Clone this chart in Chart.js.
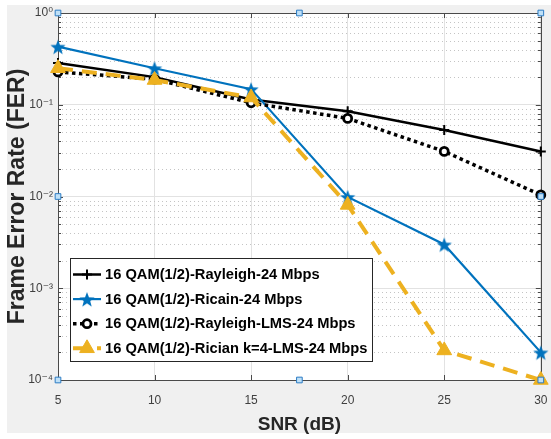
<!DOCTYPE html>
<html>
<head>
<meta charset="utf-8">
<script src="https://cdn.jsdelivr.net/npm/chart.js@4.4.0/dist/chart.umd.min.js"></script>
<style>
  html, body { margin: 0; padding: 0; background: #ffffff; }
  #wrap { position: relative; width: 551px; height: 439px; }
</style>
</head>
<body>
<div id="wrap"><canvas id="chart" width="551" height="439"></canvas></div>
<script>
// data
const snr = [5, 10, 15, 20, 25, 30];
const ferRayleigh = [0.285, 0.2, 0.114, 0.085, 0.053, 0.031];
const ferRician = [0.43, 0.25, 0.148, 0.0099, 0.003, 0.0002];
const ferRayleighLms = [0.228, 0.19, 0.105, 0.071, 0.031, 0.0104];
const ferRicianLms = [0.25, 0.186, 0.12, 0.0081, 0.00021, 0.0001];
const seriesLabels = [
  '16 QAM(1/2)-Rayleigh-24 Mbps',
  '16 QAM(1/2)-Ricain-24 Mbps',
  '16 QAM(1/2)-Rayleigh-LMS-24 Mbps',
  '16 QAM(1/2)-Rician k=4-LMS-24 Mbps'
];
const xTicks = [5, 10, 15, 20, 25, 30];
const yDecades = [-4, -3, -2, -1, 0];
// blue selection handles of the figure editor
const handleX = [5, 17.5, 30, 5, 30, 5, 17.5, 30];
const handleY = [1, 1, 1, 1e-2, 1e-2, 1e-4, 1e-4, 1e-4];

const sup = {'0': '\u2070', '1': '\u00b9', '2': '\u00b2', '3': '\u00b3', '4': '\u2074', '-': '\u207b'};
const FONT = "'Liberation Sans', Arial, 'DejaVu Sans', sans-serif";

function pts(ys) {
  return snr.map((x, i) => ({x: x, y: ys[i]}));
}
function isDecade(v) {
  const e = Math.round(Math.log10(v));
  return Math.abs(v / Math.pow(10, e) - 1) < 1e-6;
}

// filled pentagram marker
function makeStar(r, color) {
  const c = document.createElement('canvas');
  const s = Math.ceil(r * 2 + 2);
  c.width = s; c.height = s;
  const g = c.getContext('2d');
  g.fillStyle = color;
  g.beginPath();
  for (let i = 0; i < 10; i++) {
    const rr = i % 2 ? r * 0.42 : r;
    const a = -Math.PI / 2 + i * Math.PI / 5;
    const px = s / 2 + rr * Math.cos(a), py = s / 2 + 1 + rr * Math.sin(a);
    if (i == 0) g.moveTo(px, py); else g.lineTo(px, py);
  }
  g.closePath();
  g.fill();
  return c;
}
const star = makeStar(8, '#0072BD');

const lineSets = [
  {label: seriesLabels[0], data: pts(ferRayleigh), borderColor: '#000000', backgroundColor: '#000000',
   borderWidth: 2.5, pointStyle: 'cross', pointRadius: 5, pointBorderWidth: 2, order: 4, legendRow: 0},
  {label: seriesLabels[1], data: pts(ferRician), borderColor: '#0072BD', backgroundColor: '#0072BD',
   borderWidth: 2.2, pointStyle: star, pointRadius: 8, order: 3, legendRow: 1},
  {label: seriesLabels[2], data: pts(ferRayleighLms), borderColor: '#000000', backgroundColor: '#ffffff',
   borderWidth: 3.5, borderDash: [3.5, 3.5], pointStyle: 'circle', pointRadius: 4, pointBorderWidth: 2.8, order: 2, legendRow: 2},
  {label: seriesLabels[3], data: pts(ferRicianLms), borderColor: '#EDB120', backgroundColor: '#EDB120',
   borderWidth: 4, borderDash: [15, 9], pointStyle: 'triangle', pointRadius: 8.5, pointBorderWidth: 1, order: 1, legendRow: 3}
];
lineSets.forEach(d => { d.clip = false; d.tension = 0; d.fill = false; d.pointBorderColor = d.borderColor;
  d.pointBackgroundColor = d.backgroundColor; d.pointHoverRadius = d.pointRadius; });

const handles = {
  label: 'handles', data: handleX.map((x, i) => ({x: x, y: handleY[i]})), showLine: false,
  pointStyle: 'rect', pointRadius: 4, pointBorderWidth: 1, pointBackgroundColor: '#bfe0f7',
  pointBorderColor: '#2c7cc4', clip: false, order: 0
};

const frame = {
  id: 'frame',
  beforeDraw(chart) {
    const ctx = chart.ctx, a = chart.chartArea;
    ctx.save();
    ctx.fillStyle = '#f0f0f0';
    ctx.fillRect(7, 5, 544, 428);
    ctx.fillStyle = '#ffffff';
    ctx.fillRect(a.left, a.top, a.right - a.left, a.bottom - a.top);
    ctx.restore();
  },
  beforeDatasetsDraw(chart) {
    const ctx = chart.ctx, a = chart.chartArea, ys = chart.scales.y, xs = chart.scales.x;
    ctx.save();
    // minor dotted grid
    ctx.strokeStyle = '#c4c4c4';
    ctx.lineWidth = 1;
    ctx.setLineDash([1, 3]);
    ys.ticks.forEach(t => {
      if (isDecade(t.value)) return;
      const y = Math.round(ys.getPixelForValue(t.value)) + 0.5;
      ctx.beginPath(); ctx.moveTo(a.left, y); ctx.lineTo(a.right, y); ctx.stroke();
    });
    ctx.setLineDash([]);
    // box and inward ticks
    ctx.strokeStyle = '#4a4a4a';
    ctx.strokeRect(Math.round(a.left) + 0.5, Math.round(a.top) + 0.5, Math.round(a.right - a.left), Math.round(a.bottom - a.top));
    ctx.beginPath();
    ys.ticks.forEach(t => {
      const y = Math.round(ys.getPixelForValue(t.value)) + 0.5;
      const len = isDecade(t.value) ? 5 : 3;
      ctx.moveTo(a.left, y); ctx.lineTo(a.left + len, y);
      ctx.moveTo(a.right, y); ctx.lineTo(a.right - len, y);
    });
    xTicks.forEach(v => {
      const x = Math.round(xs.getPixelForValue(v)) + 0.5;
      ctx.moveTo(x, a.bottom); ctx.lineTo(x, a.bottom - 5);
      ctx.moveTo(x, a.top); ctx.lineTo(x, a.top + 5);
    });
    ctx.stroke();
    ctx.restore();
  },
  afterDatasetsDraw(chart) {
    const ctx = chart.ctx, a = chart.chartArea;
    const bx = a.left + 12, bw = 302, bh = 103, by = a.bottom - 19 - bh;
    ctx.save();
    ctx.fillStyle = '#ffffff';
    ctx.fillRect(bx, by, bw, bh);
    ctx.strokeStyle = '#262626';
    ctx.lineWidth = 1;
    ctx.strokeRect(Math.round(bx) + 0.5, Math.round(by) + 0.5, bw, bh);
    ctx.font = 'bold 14.7px ' + FONT;
    ctx.textBaseline = 'middle';
    ctx.textAlign = 'left';
    chart.data.datasets.forEach(ds => {
      if (ds.legendRow === undefined) return;
      const y = by + 16.5 + ds.legendRow * 24.6;
      const x0 = bx + 3, x1 = bx + 31, cx = (x0 + x1) / 2;
      ctx.save();
      ctx.strokeStyle = ds.borderColor;
      ctx.lineWidth = ds.borderWidth;
      ctx.setLineDash(ds.borderDash || []);
      ctx.beginPath(); ctx.moveTo(x0, y); ctx.lineTo(x1, y); ctx.stroke();
      ctx.setLineDash([]);
      ctx.fillStyle = ds.pointBackgroundColor;
      ctx.strokeStyle = ds.pointBorderColor;
      ctx.lineWidth = ds.pointBorderWidth || 1;
      Chart.helpers.drawPoint(ctx, {pointStyle: ds.pointStyle, radius: ds.pointRadius, borderWidth: ds.pointBorderWidth || 1, rotation: 0}, cx, y);
      ctx.restore();
      ctx.fillStyle = '#000000';
      ctx.fillText(ds.label, bx + 35, y + 0.5);
    });
    ctx.restore();
  }
};

new Chart(document.getElementById('chart'), {
  type: 'line',
  data: {datasets: [handles].concat(lineSets)},
  options: {
    responsive: false,
    animation: false,
    events: [],
    layout: {padding: {top: 13, right: 7, left: 0, bottom: 0}},
    plugins: {legend: {display: false}, tooltip: {enabled: false}},
    scales: {
      x: {
        type: 'linear', min: 5, max: 30,
        afterFit(s) { s.height = 59; s.paddingLeft = 0; s.paddingRight = 0; },
        afterBuildTicks(s) { s.ticks = xTicks.map(v => ({value: v})); },
        grid: {color: '#e2e2e2', drawTicks: false},
        border: {display: false},
        ticks: {padding: 13, color: '#404040', font: {family: FONT, size: 12}, autoSkip: false, maxRotation: 0},
        title: {display: true, text: 'SNR (dB)', color: '#262626', font: {family: FONT, size: 19, weight: 'bold'}, padding: {top: 0, bottom: 3}}
      },
      y: {
        type: 'logarithmic', min: 1e-4, max: 1,
        afterFit(s) { s.width = 58; s.paddingTop = 0; s.paddingBottom = 0; },
        afterBuildTicks(s) {
          const t = [];
          yDecades.forEach(e => {
            t.push({value: Math.pow(10, e)});
            if (e < 0) for (let m = 2; m <= 9; m++) t.push({value: m * Math.pow(10, e)});
          });
          s.ticks = t.sort((p, q) => p.value - q.value);
        },
        grid: {color: c => (c.tick && isDecade(c.tick.value)) ? '#e2e2e2' : 'rgba(0,0,0,0)', drawTicks: false},
        border: {display: false},
        ticks: {
          padding: 5, color: '#404040', font: {family: FONT, size: 12}, autoSkip: false,
          callback: v => {
            if (!isDecade(v)) return '';
            const e = String(Math.round(Math.log10(v)));
            return '10' + e.split('').map(ch => sup[ch]).join('');
          }
        },
        title: {display: true, text: 'Frame Error Rate (FER)', color: '#262626', font: {family: FONT, size: 23, weight: 'bold'}, padding: {top: 4, bottom: 4}}
      }
    }
  },
  plugins: [frame]
});
</script>
</body>
</html>
